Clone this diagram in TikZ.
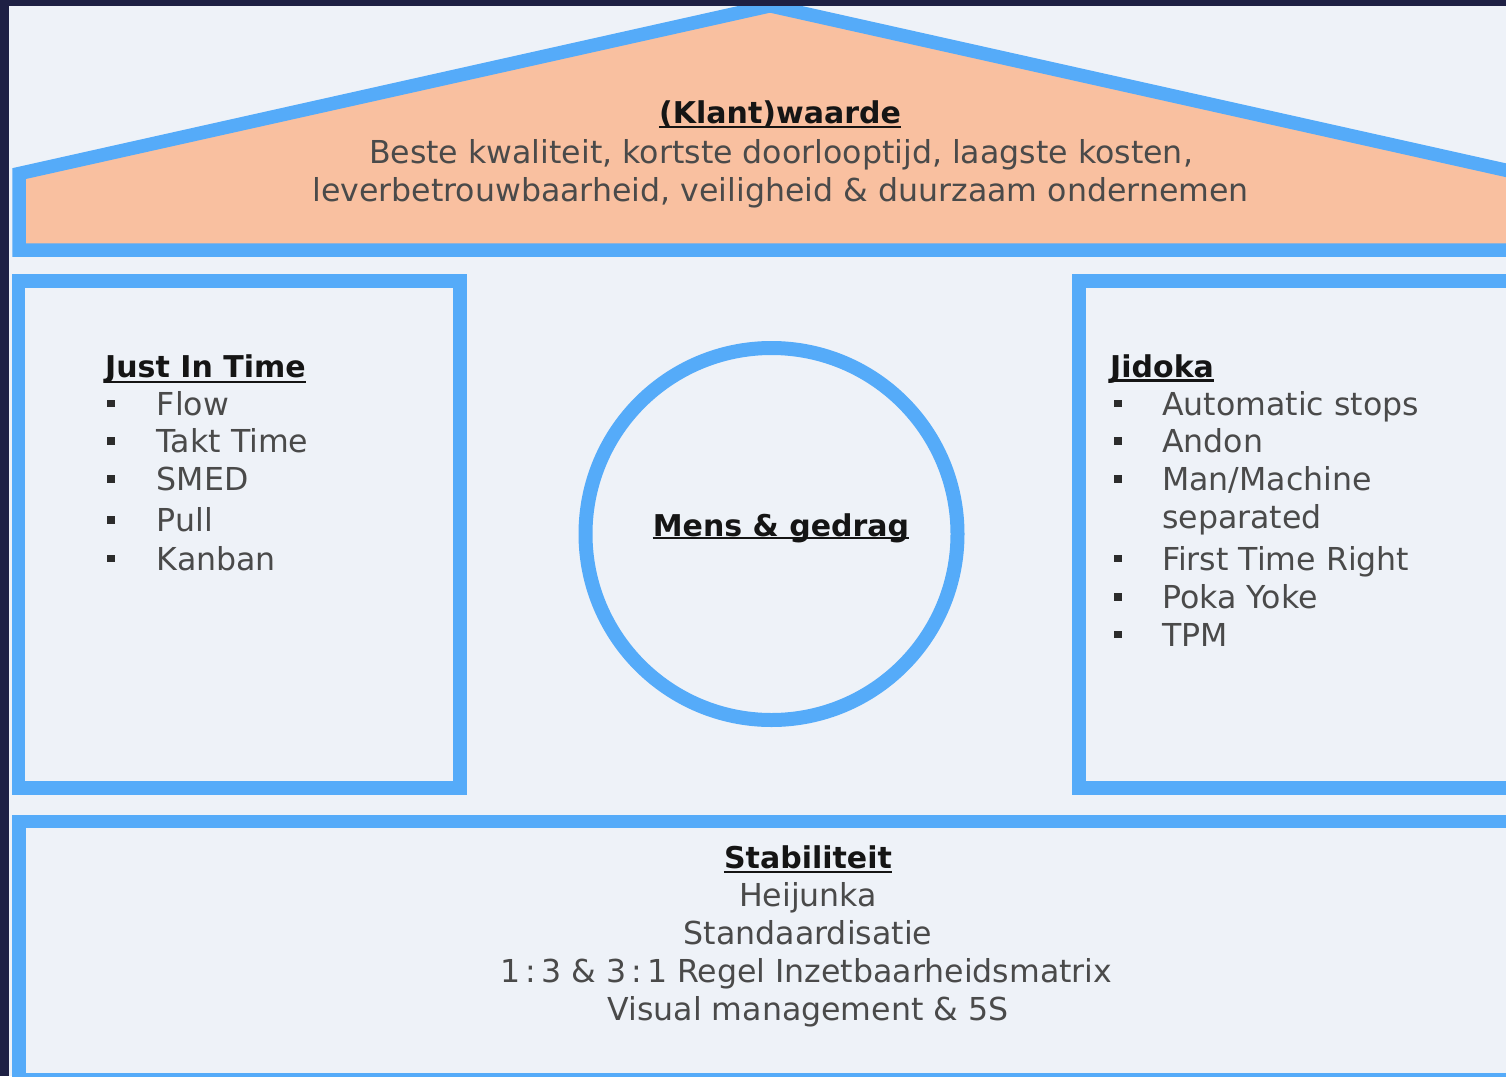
\documentclass[tikz,border=0pt]{standalone}
\usepackage{fontspec}
\setmainfont{DejaVu Sans}
\definecolor{bgc}{HTML}{EEF2F8}
\definecolor{navy}{HTML}{1E2044}
\definecolor{blu}{HTML}{55ABF9}
\definecolor{peach}{HTML}{F9C0A0}
\definecolor{txtc}{HTML}{4A4A4A}
\definecolor{hdc}{HTML}{151515}
\begin{document}
\begin{tikzpicture}[x=1pt,y=-1pt,
  frame/.style={draw=blu, line width=13.5pt, line join=miter},
  txt/.style={inner sep=0pt, font=\fontsize{31.6}{38}\selectfont, text=txtc},
  hd/.style={inner sep=0pt, font=\fontsize{30}{38}\selectfont\bfseries, text=hdc},
  ul/.style={draw=hdc, line width=2.8pt},
  bul/.style={rectangle, fill=hdc!90, minimum size=7.5pt, inner sep=0pt}]
\useasboundingbox (0,0) rectangle (1506,1076);
\fill[bgc] (0,0) rectangle (1506,1076);
\begin{scope}
  \clip (0,0) rectangle (1506,1076);
  % roof
  \filldraw[frame, fill=peach] (19,250) -- (19,173.6) -- (770,5.8) -- (1521,173.6) -- (1521,250) -- cycle;
  % pillars
  \draw[frame] (18.5,281) rectangle (460,788);
  \draw[frame] (1079,281) rectangle (1540,788);
  % foundation
  \draw[frame] (19,821.5) rectangle (1540,1080);
  % circle
  \draw[draw=blu, line width=14pt] (771.5,534) circle[radius=186pt];
\end{scope}

% roof text
\node[hd, anchor=base] (kw) at (780,123) {(Klant)waarde};
\draw[ul] ([yshift=-4pt]kw.base west) -- ([yshift=-4pt]kw.base east);
\node[txt, anchor=base] (r1) at (781,163.5) {Beste kwaliteit, kortste doorlooptijd, laagste kosten,};
\node[txt, anchor=base] (r2) at (780.5,201) {leverbetrouwbaarheid, veiligheid \& duurzaam ondernemen};

% Just in time
\node[hd, anchor=base west] (jit) at (105,377.3) {Just In Time};
\draw[ul] ([yshift=-4.7pt]jit.base west) -- ([yshift=-4.7pt]jit.base east);
\node[txt, anchor=base west] (j1) at (156.7,415) {Flow};
\node[txt, anchor=base west] (j2) at (156.7,452.7) {Takt Time};
\node[txt, anchor=base west] (j3) at (156.7,490.7) {SMED};
\node[txt, anchor=base west] (j4) at (156.7,531.7) {Pull};
\node[txt, anchor=base west] (j5) at (156.7,570) {Kanban};
\node[bul] (jb1) at (111,403.5) {};
\node[bul] (jb2) at (111,441.2) {};
\node[bul] (jb3) at (111,479.2) {};
\node[bul] (jb4) at (111,520.2) {};
\node[bul] (jb5) at (111,558.5) {};

% Jidoka
\node[hd, anchor=base west] (jid) at (1110,377) {Jidoka};
\draw[ul] ([yshift=-3.5pt]jid.base west) -- ([yshift=-3.5pt]jid.base east);
\node[txt, anchor=base west] (d1) at (1162,415) {Automatic stops};
\node[txt, anchor=base west] (d2) at (1162,452.7) {Andon};
\node[txt, anchor=base west] (d3) at (1162,490.7) {Man/Machine};
\node[txt, anchor=base west] (d3b) at (1162,528.3) {separated};
\node[txt, anchor=base west] (d4) at (1162,570) {First Time Right};
\node[txt, anchor=base west] (d5) at (1162,608.3) {Poka Yoke};
\node[txt, anchor=base west] (d6) at (1162,646) {TPM};
\node[bul] (db1) at (1118,403.5) {};
\node[bul] (db2) at (1118,441.2) {};
\node[bul] (db3) at (1118,479.2) {};
\node[bul] (db4) at (1118,558.5) {};
\node[bul] (db5) at (1118,596.8) {};
\node[bul] (db6) at (1118,634.5) {};

% centre
\node[hd, anchor=base] (mg) at (781,536) {Mens \& gedrag};
\draw[ul] ([yshift=-2pt]mg.base west) -- ([yshift=-2pt]mg.base east);

% foundation text
\node[hd, anchor=base] (st) at (808,868.5) {Stabiliteit};
\draw[ul] ([yshift=-3.5pt]st.base west) -- ([yshift=-3.5pt]st.base east);
\node[txt, anchor=base] (s1) at (808,906.5) {Heijunka};
\node[txt, anchor=base] (s2) at (808,944) {Standaardisatie};
\node[txt, anchor=base] (s3) at (806.5,982) {1\hspace{0.16em}:\hspace{0.16em}3 \& 3\hspace{0.16em}:\hspace{0.16em}1 Regel Inzetbaarheidsmatrix};
\node[txt, anchor=base] (s4) at (808,1020) {Visual management \& 5S};

% dark outer edge
\fill[navy] (0,0) rectangle (1506,6);
\fill[navy] (0,0) rectangle (9,1076);
\end{tikzpicture}
\end{document}
